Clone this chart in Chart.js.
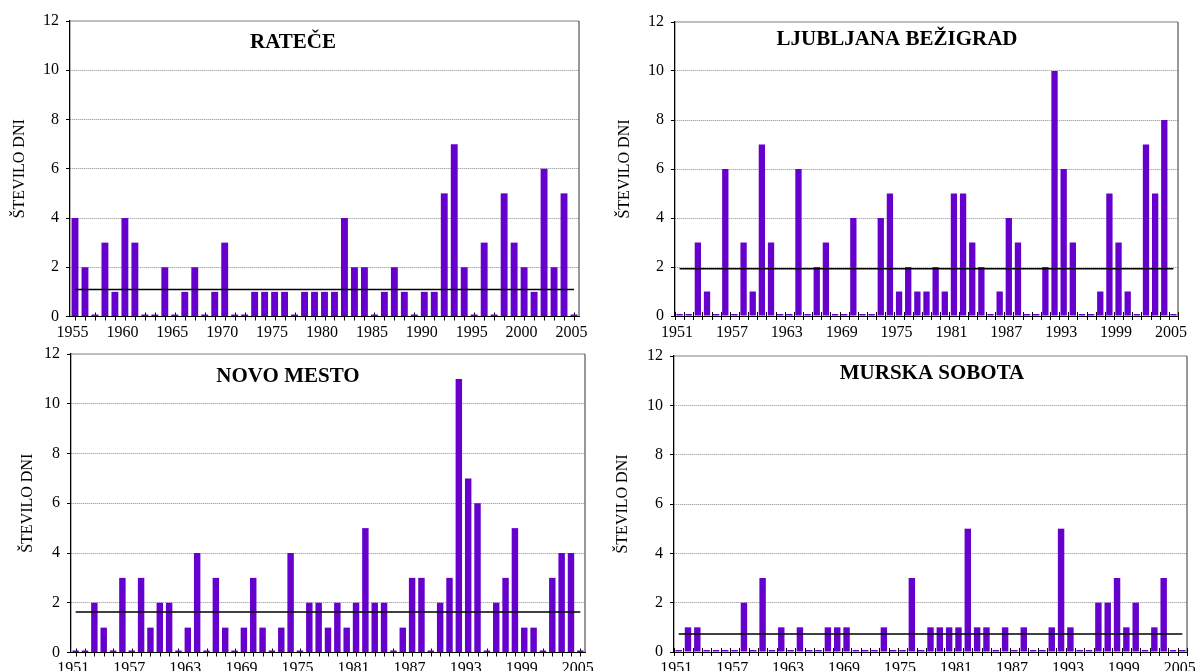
<!DOCTYPE html>
<html>
<head>
<meta charset="utf-8">
<script src="https://cdn.jsdelivr.net/npm/chart.js@4.4.1/dist/chart.umd.min.js"></script>
<style>
  html, body { margin: 0; padding: 0; background: #fff; }
  #wrap { position: relative; width: 1195px; height: 671px; }
  #wrap canvas { position: absolute; left: 0; top: 0; }
</style>
</head>
<body>
<div id="wrap">
  <canvas id="c1" width="1195" height="671"></canvas>
  <canvas id="c2" width="1195" height="671"></canvas>
  <canvas id="c3" width="1195" height="671"></canvas>
  <canvas id="c4" width="1195" height="671"></canvas>
</div>
<script>
// categories
const years1955 = [1955,1956,1957,1958,1959,1960,1961,1962,1963,1964,1965,1966,1967,1968,1969,1970,
  1971,1972,1973,1974,1975,1976,1977,1978,1979,1980,1981,1982,1983,1984,1985,1986,1987,1988,1989,1990,
  1991,1992,1993,1994,1995,1996,1997,1998,1999,2000,2001,2002,2003,2004,2005];
const years1951 = [1951,1952,1953,1954].concat(years1955);

// tick labels
const ticks1955 = [1955,1960,1965,1970,1975,1980,1985,1990,1995,2000,2005];
const ticks1951 = [1951,1957,1963,1969,1975,1981,1987,1993,1999,2005];

// number of days per year
const ratece = [4,2,0,3,1,4,3,0,0,2, 0,1,2,0,1,3,0,0,1,1, 1,1,0,1,1,1,1,4,2,2,
  0,1,2,1,0,1,1,5,7,2, 0,3,0,5,3,2,1,6,2,5, 0];
const ljubljana = [0,0,3,1,0,6,0,3,1,7, 3,0,0,6,0,2,3,0,0,4, 0,0,4,5,1,2,1,1,2,1,
  5,5,3,2,0,1,4,3,0,0, 2,10,6,3,0,0,1,5,3,1, 0,7,5,8,0];
const novoMesto = [0,0,2,1,0,3,0,3,1,2, 2,0,1,4,0,3,1,0,1,3, 1,0,1,4,0,2,2,1,2,1,
  2,5,2,2,0,1,3,3,0,2, 3,11,7,6,0,2,3,5,1,1, 0,3,4,4,0];
const murskaSobota = [0,1,1,0,0,0,0,2,0,3, 0,1,0,1,0,0,1,1,1,0, 0,0,1,0,0,3,0,1,1,1,
  1,5,1,1,0,1,0,1,0,0, 1,5,1,0,0,2,2,3,1,2, 0,1,3,0,0];

// 1961-1990 average line
const average6190 = [1.1, 1.93, 1.63, 0.73];
const stations = ['RATEČE', 'LJUBLJANA BEŽIGRAD', 'NOVO MESTO', 'MURSKA SOBOTA'];

const SERIF = '"Liberation Serif", "Times New Roman", serif';
const PURPLE = '#6600cc';

// layout of the four panels (pixels on the 1195x671 page)
const panels = [
  { id: 'c1', values: ratece, years: years1955, ticks: ticks1955, avg: average6190[0], name: stations[0],
    origin: 0, area: { left: 70, top: 21, right: 579, bottom: 316.5 }, centerTicks: true,
    titleAt: [293, 48], yTitlePad: 10 },
  { id: 'c2', values: ljubljana, years: years1951, ticks: ticks1951, avg: average6190[1], name: stations[1],
    origin: 597, area: { left: 675, top: 22, right: 1178, bottom: 316 }, centerTicks: false,
    titleAt: [897, 45], yTitlePad: 18.5 },
  { id: 'c3', values: novoMesto, years: years1951, ticks: ticks1951, avg: average6190[2], name: stations[2],
    origin: 0, area: { left: 71, top: 354, right: 585, bottom: 652.5 }, centerTicks: true,
    titleAt: [288, 382], yTitlePad: 18 },
  { id: 'c4', values: murskaSobota, years: years1951, ticks: ticks1951, avg: average6190[3], name: stations[3],
    origin: 597, area: { left: 674, top: 356, right: 1187, bottom: 652 }, centerTicks: false,
    titleAt: [932, 379], yTitlePad: 16 }
];

const panelDecor = {
  id: 'panelDecor',
  beforeDatasetsDraw(chart, args, opts) {
    const ctx = chart.ctx, a = chart.chartArea, x = chart.scales.x, y0 = chart.scales.y.getPixelForValue(0);
    const n = chart.data.labels.length;
    ctx.save();
    // frame top and right
    ctx.lineWidth = 1;
    ctx.strokeStyle = '#808080';
    ctx.beginPath(); ctx.moveTo(a.left, a.top); ctx.lineTo(a.right, a.top); ctx.stroke();
    ctx.strokeStyle = '#333';
    ctx.beginPath(); ctx.moveTo(a.right, a.top); ctx.lineTo(a.right, a.bottom); ctx.stroke();
    // cross tick marks on the category axis
    ctx.strokeStyle = '#000';
    ctx.beginPath();
    const count = opts.centerTicks ? n : n + 1;
    for (let i = 0; i < count; i++) {
      const px = Math.round(opts.centerTicks ? x.getPixelForValue(i) : x.getPixelForValue(i - 0.5)) + 0.5;
      ctx.moveTo(px, y0 - 4); ctx.lineTo(px, y0 + 4);
    }
    ctx.stroke();
    ctx.restore();
  },
  afterDatasetsDraw(chart, args, opts) {
    const ctx = chart.ctx;
    ctx.save();
    ctx.fillStyle = '#000';
    ctx.font = 'bold 21px ' + SERIF;
    ctx.textAlign = 'center';
    ctx.textBaseline = 'alphabetic';
    ctx.fillText(opts.text, opts.at[0], opts.at[1]);
    ctx.restore();
  }
};

panels.forEach(p => {
  const labelFont = { family: SERIF, size: 16 };
  // the x label box must hold the year labels (they are clipped to it)
  const xBox = Math.min(24, 671 - p.area.bottom);
  new Chart(document.getElementById(p.id), {
    type: 'bar',
    data: {
      labels: p.years,
      datasets: [
        {
          type: 'line',
          data: p.years.map(() => p.avg),
          borderColor: '#000',
          borderWidth: 1.5,
          pointRadius: 0,
          order: 0
        },
        {
          data: p.values,
          backgroundColor: PURPLE,
          borderWidth: 0,
          barPercentage: 0.69,
          categoryPercentage: 1,
          minBarLength: 2,
          clip: false,
          order: 1
        }
      ]
    },
    options: {
      responsive: false,
      devicePixelRatio: 1,
      animation: false,
      layout: {
        padding: {
          left: p.origin,
          top: p.area.top,
          right: 1195 - p.area.right,
          bottom: 671 - p.area.bottom - xBox
        }
      },
      plugins: {
        legend: { display: false },
        tooltip: { enabled: false },
        panelDecor: { text: p.name, at: p.titleAt, centerTicks: p.centerTicks }
      },
      scales: {
        x: {
          offset: true,
          grid: { display: false, drawTicks: false },
          border: { display: true, color: '#000', width: 1 },
          ticks: {
            autoSkip: false,
            maxRotation: 0,
            minRotation: 0,
            padding: 7,
            labelOffset: -2.5,
            color: '#000',
            font: labelFont,
            callback: (v, i) => p.ticks.includes(p.years[i]) ? String(p.years[i]) : ''
          },
          afterFit: s => { s.height = xBox; s.paddingLeft = 0; s.paddingRight = 0; }
        },
        y: {
          min: 0,
          max: 12,
          ticks: { stepSize: 2, padding: 7, color: '#000', font: labelFont },
          grid: {
            color: c => (c.tick && c.tick.value > 0 && c.tick.value < 12) ? '#8c8c8c' : 'rgba(0,0,0,0)',
            lineWidth: 1,
            drawTicks: true,
            tickLength: 4,
            tickColor: '#000'
          },
          border: { display: true, color: '#000', width: 1.3, dash: [1, 1] },
          title: {
            display: true,
            text: 'ŠTEVILO DNI',
            color: '#000',
            font: { family: SERIF, size: 16 },
            padding: { top: p.yTitlePad, bottom: 0 }
          },
          afterFit: s => { s.width = p.area.left - p.origin; s.paddingTop = 0; s.paddingBottom = 0; }
        }
      }
    },
    plugins: [panelDecor]
  });
});
</script>
</body>
</html>
